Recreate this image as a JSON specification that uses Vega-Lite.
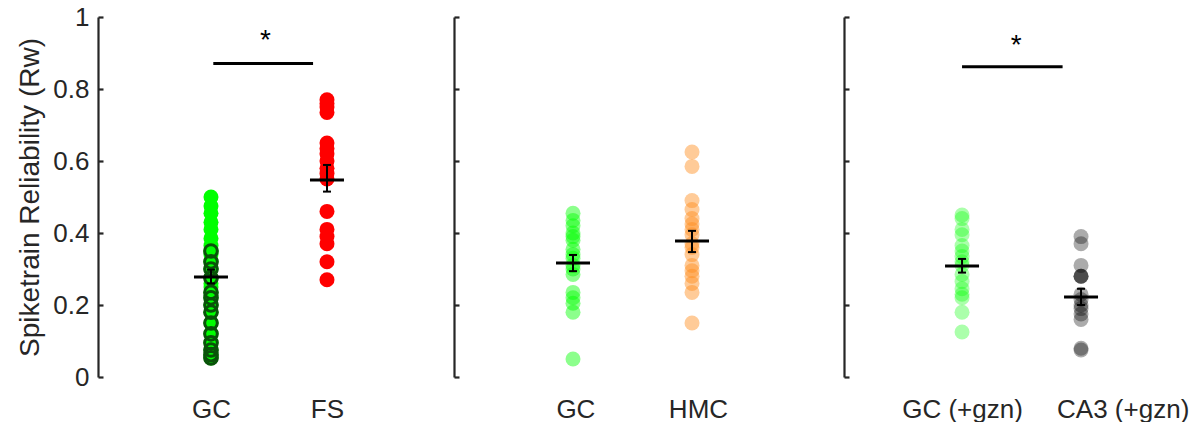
{
  "$schema": "https://vega.github.io/schema/vega-lite/v6.json",
  "padding": {"left": 16, "top": 4, "right": 0, "bottom": 0},
  "bounds": "flush",
  "spacing": 0,
  "config": {
    "view": {"stroke": null},
    "axis": {"domainColor": "#262626", "domainWidth": 2.2, "tickColor": "#262626", "tickWidth": 2.2, "labelColor": "#262626", "labelFont": "Liberation Sans", "labelFontSize": 26, "titleFont": "Liberation Sans", "titleFontSize": 28, "titleFontWeight": "normal", "titleColor": "#262626", "grid": false},
    "tick": {"opacity": 1},
    "text": {"font": "Liberation Sans"}
  },
  "datasets": {
    "points": [
      {"panel": 1, "group": "GC", "slot": 1, "rw": 0.50, "ring": false},
      {"panel": 1, "group": "GC", "slot": 1, "rw": 0.475, "ring": false},
      {"panel": 1, "group": "GC", "slot": 1, "rw": 0.455, "ring": false},
      {"panel": 1, "group": "GC", "slot": 1, "rw": 0.43, "ring": false},
      {"panel": 1, "group": "GC", "slot": 1, "rw": 0.41, "ring": false},
      {"panel": 1, "group": "GC", "slot": 1, "rw": 0.385, "ring": false},
      {"panel": 1, "group": "GC", "slot": 1, "rw": 0.365, "ring": false},
      {"panel": 1, "group": "GC", "slot": 1, "rw": 0.34, "ring": false},
      {"panel": 1, "group": "GC", "slot": 1, "rw": 0.26, "ring": false},
      {"panel": 1, "group": "GC", "slot": 1, "rw": 0.25, "ring": false},
      {"panel": 1, "group": "GC", "slot": 1, "rw": 0.35, "ring": true},
      {"panel": 1, "group": "GC", "slot": 1, "rw": 0.32, "ring": true},
      {"panel": 1, "group": "GC", "slot": 1, "rw": 0.30, "ring": true},
      {"panel": 1, "group": "GC", "slot": 1, "rw": 0.275, "ring": true},
      {"panel": 1, "group": "GC", "slot": 1, "rw": 0.235, "ring": true},
      {"panel": 1, "group": "GC", "slot": 1, "rw": 0.22, "ring": true},
      {"panel": 1, "group": "GC", "slot": 1, "rw": 0.20, "ring": true},
      {"panel": 1, "group": "GC", "slot": 1, "rw": 0.18, "ring": true},
      {"panel": 1, "group": "GC", "slot": 1, "rw": 0.15, "ring": true},
      {"panel": 1, "group": "GC", "slot": 1, "rw": 0.12, "ring": true},
      {"panel": 1, "group": "GC", "slot": 1, "rw": 0.095, "ring": true},
      {"panel": 1, "group": "GC", "slot": 1, "rw": 0.075, "ring": true},
      {"panel": 1, "group": "GC", "slot": 1, "rw": 0.062, "ring": true},
      {"panel": 1, "group": "GC", "slot": 1, "rw": 0.053, "ring": true},
      {"panel": 1, "group": "FS", "slot": 2, "rw": 0.77, "ring": false},
      {"panel": 1, "group": "FS", "slot": 2, "rw": 0.76, "ring": false},
      {"panel": 1, "group": "FS", "slot": 2, "rw": 0.75, "ring": false},
      {"panel": 1, "group": "FS", "slot": 2, "rw": 0.735, "ring": false},
      {"panel": 1, "group": "FS", "slot": 2, "rw": 0.65, "ring": false},
      {"panel": 1, "group": "FS", "slot": 2, "rw": 0.635, "ring": false},
      {"panel": 1, "group": "FS", "slot": 2, "rw": 0.62, "ring": false},
      {"panel": 1, "group": "FS", "slot": 2, "rw": 0.60, "ring": false},
      {"panel": 1, "group": "FS", "slot": 2, "rw": 0.58, "ring": false},
      {"panel": 1, "group": "FS", "slot": 2, "rw": 0.565, "ring": false},
      {"panel": 1, "group": "FS", "slot": 2, "rw": 0.55, "ring": false},
      {"panel": 1, "group": "FS", "slot": 2, "rw": 0.46, "ring": false},
      {"panel": 1, "group": "FS", "slot": 2, "rw": 0.41, "ring": false},
      {"panel": 1, "group": "FS", "slot": 2, "rw": 0.39, "ring": false},
      {"panel": 1, "group": "FS", "slot": 2, "rw": 0.37, "ring": false},
      {"panel": 1, "group": "FS", "slot": 2, "rw": 0.32, "ring": false},
      {"panel": 1, "group": "FS", "slot": 2, "rw": 0.27, "ring": false},
      {"panel": 2, "group": "GC", "slot": 1, "rw": 0.455, "ring": false},
      {"panel": 2, "group": "GC", "slot": 1, "rw": 0.435, "ring": false},
      {"panel": 2, "group": "GC", "slot": 1, "rw": 0.42, "ring": false},
      {"panel": 2, "group": "GC", "slot": 1, "rw": 0.40, "ring": false},
      {"panel": 2, "group": "GC", "slot": 1, "rw": 0.39, "ring": false},
      {"panel": 2, "group": "GC", "slot": 1, "rw": 0.38, "ring": false},
      {"panel": 2, "group": "GC", "slot": 1, "rw": 0.355, "ring": false},
      {"panel": 2, "group": "GC", "slot": 1, "rw": 0.34, "ring": false},
      {"panel": 2, "group": "GC", "slot": 1, "rw": 0.33, "ring": false},
      {"panel": 2, "group": "GC", "slot": 1, "rw": 0.31, "ring": false},
      {"panel": 2, "group": "GC", "slot": 1, "rw": 0.30, "ring": false},
      {"panel": 2, "group": "GC", "slot": 1, "rw": 0.285, "ring": false},
      {"panel": 2, "group": "GC", "slot": 1, "rw": 0.235, "ring": false},
      {"panel": 2, "group": "GC", "slot": 1, "rw": 0.22, "ring": false},
      {"panel": 2, "group": "GC", "slot": 1, "rw": 0.205, "ring": false},
      {"panel": 2, "group": "GC", "slot": 1, "rw": 0.18, "ring": false},
      {"panel": 2, "group": "GC", "slot": 1, "rw": 0.05, "ring": false},
      {"panel": 2, "group": "HMC", "slot": 2, "rw": 0.625, "ring": false},
      {"panel": 2, "group": "HMC", "slot": 2, "rw": 0.585, "ring": false},
      {"panel": 2, "group": "HMC", "slot": 2, "rw": 0.49, "ring": false},
      {"panel": 2, "group": "HMC", "slot": 2, "rw": 0.465, "ring": false},
      {"panel": 2, "group": "HMC", "slot": 2, "rw": 0.44, "ring": false},
      {"panel": 2, "group": "HMC", "slot": 2, "rw": 0.425, "ring": false},
      {"panel": 2, "group": "HMC", "slot": 2, "rw": 0.41, "ring": false},
      {"panel": 2, "group": "HMC", "slot": 2, "rw": 0.395, "ring": false},
      {"panel": 2, "group": "HMC", "slot": 2, "rw": 0.37, "ring": false},
      {"panel": 2, "group": "HMC", "slot": 2, "rw": 0.36, "ring": false},
      {"panel": 2, "group": "HMC", "slot": 2, "rw": 0.34, "ring": false},
      {"panel": 2, "group": "HMC", "slot": 2, "rw": 0.31, "ring": false},
      {"panel": 2, "group": "HMC", "slot": 2, "rw": 0.295, "ring": false},
      {"panel": 2, "group": "HMC", "slot": 2, "rw": 0.28, "ring": false},
      {"panel": 2, "group": "HMC", "slot": 2, "rw": 0.26, "ring": false},
      {"panel": 2, "group": "HMC", "slot": 2, "rw": 0.235, "ring": false},
      {"panel": 2, "group": "HMC", "slot": 2, "rw": 0.15, "ring": false},
      {"panel": 3, "group": "GC (+gzn)", "slot": 1, "rw": 0.45, "ring": false},
      {"panel": 3, "group": "GC (+gzn)", "slot": 1, "rw": 0.44, "ring": false},
      {"panel": 3, "group": "GC (+gzn)", "slot": 1, "rw": 0.41, "ring": false},
      {"panel": 3, "group": "GC (+gzn)", "slot": 1, "rw": 0.395, "ring": false},
      {"panel": 3, "group": "GC (+gzn)", "slot": 1, "rw": 0.365, "ring": false},
      {"panel": 3, "group": "GC (+gzn)", "slot": 1, "rw": 0.35, "ring": false},
      {"panel": 3, "group": "GC (+gzn)", "slot": 1, "rw": 0.335, "ring": false},
      {"panel": 3, "group": "GC (+gzn)", "slot": 1, "rw": 0.32, "ring": false},
      {"panel": 3, "group": "GC (+gzn)", "slot": 1, "rw": 0.31, "ring": false},
      {"panel": 3, "group": "GC (+gzn)", "slot": 1, "rw": 0.285, "ring": false},
      {"panel": 3, "group": "GC (+gzn)", "slot": 1, "rw": 0.265, "ring": false},
      {"panel": 3, "group": "GC (+gzn)", "slot": 1, "rw": 0.245, "ring": false},
      {"panel": 3, "group": "GC (+gzn)", "slot": 1, "rw": 0.23, "ring": false},
      {"panel": 3, "group": "GC (+gzn)", "slot": 1, "rw": 0.22, "ring": false},
      {"panel": 3, "group": "GC (+gzn)", "slot": 1, "rw": 0.18, "ring": false},
      {"panel": 3, "group": "GC (+gzn)", "slot": 1, "rw": 0.125, "ring": false},
      {"panel": 3, "group": "CA3 (+gzn)", "slot": 2, "rw": 0.39, "ring": false},
      {"panel": 3, "group": "CA3 (+gzn)", "slot": 2, "rw": 0.37, "ring": false},
      {"panel": 3, "group": "CA3 (+gzn)", "slot": 2, "rw": 0.31, "ring": false},
      {"panel": 3, "group": "CA3 (+gzn)", "slot": 2, "rw": 0.28, "ring": false},
      {"panel": 3, "group": "CA3 (+gzn)", "slot": 2, "rw": 0.28, "ring": false},
      {"panel": 3, "group": "CA3 (+gzn)", "slot": 2, "rw": 0.28, "ring": false},
      {"panel": 3, "group": "CA3 (+gzn)", "slot": 2, "rw": 0.23, "ring": false},
      {"panel": 3, "group": "CA3 (+gzn)", "slot": 2, "rw": 0.215, "ring": false},
      {"panel": 3, "group": "CA3 (+gzn)", "slot": 2, "rw": 0.20, "ring": false},
      {"panel": 3, "group": "CA3 (+gzn)", "slot": 2, "rw": 0.19, "ring": false},
      {"panel": 3, "group": "CA3 (+gzn)", "slot": 2, "rw": 0.175, "ring": false},
      {"panel": 3, "group": "CA3 (+gzn)", "slot": 2, "rw": 0.16, "ring": false},
      {"panel": 3, "group": "CA3 (+gzn)", "slot": 2, "rw": 0.08, "ring": false},
      {"panel": 3, "group": "CA3 (+gzn)", "slot": 2, "rw": 0.075, "ring": false}
    ],
    "stats": [
      {"panel": 1, "group": "GC", "slot": 1, "mean": 0.278, "lo": 0.26, "hi": 0.298},
      {"panel": 1, "group": "FS", "slot": 2, "mean": 0.547, "lo": 0.515, "hi": 0.589},
      {"panel": 2, "group": "GC", "slot": 1, "mean": 0.317, "lo": 0.294, "hi": 0.339},
      {"panel": 2, "group": "HMC", "slot": 2, "mean": 0.378, "lo": 0.347, "hi": 0.406},
      {"panel": 3, "group": "GC (+gzn)", "slot": 1, "mean": 0.308, "lo": 0.29, "hi": 0.328},
      {"panel": 3, "group": "CA3 (+gzn)", "slot": 2, "mean": 0.222, "lo": 0.2, "hi": 0.245}
    ],
    "sig": [
      {"panel": 1, "start": 1.02, "end": 1.88, "bar": 0.871, "mid": 1.47, "star": 0.91, "label": "*"},
      {"panel": 3, "start": 1.0, "end": 1.845, "bar": 0.862, "mid": 1.455, "star": 0.897, "label": "*"}
    ]
  },
  "hconcat": [
    {
      "width": 356, "height": 360,
      "layer": [
        {
          "data": {"name": "points"},
          "transform": [{"filter": "datum.panel == 1"}],
          "mark": {"type": "circle", "size": 225, "opacity": 1},
          "encoding": {
            "x": {"field": "slot", "type": "quantitative", "scale": {"domain": [0.026, 3.095], "nice": false, "zero": false}, "axis": {"values": [1, 2], "labelExpr": "datum.value < 1.5 ? 'GC' : 'FS'", "domain": false, "ticks": false, "labelPadding": 19, "labelFlush": false, "title": null}},
            "y": {"field": "rw", "type": "quantitative", "scale": {"domain": [0, 1], "nice": false}, "axis": {"values": [0, 0.2, 0.4, 0.6, 0.8, 1], "format": "~g", "tickSize": -5, "labelPadding": 14, "titlePadding": 8, "title": "Spiketrain Reliability (Rᴡ)"}},
            "color": {"field": "group", "type": "nominal", "scale": {"domain": ["GC", "FS", "HMC", "GC (+gzn)", "CA3 (+gzn)"], "range": ["#00ff00", "#ff0000", "#ff8c1a", "#00ff00", "#000000"]}, "legend": null}
          }
        },
        {
          "data": {"name": "points"},
          "transform": [{"filter": "datum.panel == 1 && datum.ring"}],
          "mark": {"type": "point", "shape": "circle", "filled": false, "size": 160, "stroke": "#0a520a", "strokeWidth": 3, "opacity": 1},
          "encoding": {
            "x": {"field": "slot", "type": "quantitative"},
            "y": {"field": "rw", "type": "quantitative", "title": "Spiketrain Reliability (Rᴡ)"}
          }
        },
        {
          "data": {"name": "stats"},
          "transform": [{"filter": "datum.panel == 1"}],
          "mark": {"type": "rule", "color": "#000000", "strokeWidth": 2},
          "encoding": {
            "x": {"field": "slot", "type": "quantitative"},
            "y": {"field": "lo", "type": "quantitative", "title": "Spiketrain Reliability (Rᴡ)"},
            "y2": {"field": "hi"}
          }
        },
        {
          "data": {"name": "stats"},
          "transform": [{"filter": "datum.panel == 1"}],
          "mark": {"type": "tick", "orient": "horizontal", "color": "#000000", "opacity": 1, "size": 8, "thickness": 2},
          "encoding": {
            "x": {"field": "slot", "type": "quantitative"},
            "y": {"field": "lo", "type": "quantitative", "title": "Spiketrain Reliability (Rᴡ)"}
          }
        },
        {
          "data": {"name": "stats"},
          "transform": [{"filter": "datum.panel == 1"}],
          "mark": {"type": "tick", "orient": "horizontal", "color": "#000000", "opacity": 1, "size": 8, "thickness": 2},
          "encoding": {
            "x": {"field": "slot", "type": "quantitative"},
            "y": {"field": "hi", "type": "quantitative", "title": "Spiketrain Reliability (Rᴡ)"}
          }
        },
        {
          "data": {"name": "stats"},
          "transform": [{"filter": "datum.panel == 1"}],
          "mark": {"type": "tick", "orient": "horizontal", "color": "#000000", "opacity": 1, "size": 34, "thickness": 3},
          "encoding": {
            "x": {"field": "slot", "type": "quantitative"},
            "y": {"field": "mean", "type": "quantitative", "title": "Spiketrain Reliability (Rᴡ)"}
          }
        },
        {
          "data": {"name": "sig"},
          "transform": [{"filter": "datum.panel == 1"}],
          "mark": {"type": "rule", "color": "#000000", "strokeWidth": 3},
          "encoding": {
            "x": {"field": "start", "type": "quantitative"},
            "x2": {"field": "end"},
            "y": {"field": "bar", "type": "quantitative", "title": "Spiketrain Reliability (Rᴡ)"}
          }
        },
        {
          "data": {"name": "sig"},
          "transform": [{"filter": "datum.panel == 1"}],
          "mark": {"type": "text", "fontSize": 28, "color": "#000000", "baseline": "alphabetic", "align": "center"},
          "encoding": {
            "x": {"field": "mid", "type": "quantitative"},
            "y": {"field": "star", "type": "quantitative", "title": "Spiketrain Reliability (Rᴡ)"},
            "text": {"field": "label"}
          }
        }
      ]
    },
    {
      "width": 390, "height": 360,
      "layer": [
        {
          "data": {"name": "points"},
          "transform": [{"filter": "datum.panel == 2"}],
          "mark": {"type": "circle", "size": 225, "opacity": 0.45},
          "encoding": {
            "x": {"field": "slot", "type": "quantitative", "scale": {"domain": [0, 3.277], "nice": false, "zero": false}, "axis": {"values": [1.02, 2.05], "labelExpr": "datum.value < 1.5 ? 'GC' : 'HMC'", "domain": false, "ticks": false, "labelPadding": 19, "labelFlush": false, "title": null}},
            "y": {"field": "rw", "type": "quantitative", "scale": {"domain": [0, 1], "nice": false}, "axis": {"values": [0, 0.2, 0.4, 0.6, 0.8, 1], "labels": false, "tickSize": -5, "title": null}},
            "color": {"field": "group", "type": "nominal", "scale": {"domain": ["GC", "FS", "HMC", "GC (+gzn)", "CA3 (+gzn)"], "range": ["#00ff00", "#ff0000", "#ff8c1a", "#00ff00", "#000000"]}, "legend": null}
          }
        },
        {
          "data": {"name": "stats"},
          "transform": [{"filter": "datum.panel == 2"}],
          "mark": {"type": "rule", "color": "#000000", "strokeWidth": 2},
          "encoding": {
            "x": {"field": "slot", "type": "quantitative"},
            "y": {"field": "lo", "type": "quantitative", "title": null},
            "y2": {"field": "hi"}
          }
        },
        {
          "data": {"name": "stats"},
          "transform": [{"filter": "datum.panel == 2"}],
          "mark": {"type": "tick", "orient": "horizontal", "color": "#000000", "opacity": 1, "size": 8, "thickness": 2},
          "encoding": {
            "x": {"field": "slot", "type": "quantitative"},
            "y": {"field": "lo", "type": "quantitative", "title": null}
          }
        },
        {
          "data": {"name": "stats"},
          "transform": [{"filter": "datum.panel == 2"}],
          "mark": {"type": "tick", "orient": "horizontal", "color": "#000000", "opacity": 1, "size": 8, "thickness": 2},
          "encoding": {
            "x": {"field": "slot", "type": "quantitative"},
            "y": {"field": "hi", "type": "quantitative", "title": null}
          }
        },
        {
          "data": {"name": "stats"},
          "transform": [{"filter": "datum.panel == 2"}],
          "mark": {"type": "tick", "orient": "horizontal", "color": "#000000", "opacity": 1, "size": 34, "thickness": 3},
          "encoding": {
            "x": {"field": "slot", "type": "quantitative"},
            "y": {"field": "mean", "type": "quantitative", "title": null}
          }
        }
      ]
    },
    {
      "width": 354, "height": 360,
      "layer": [
        {
          "data": {"name": "points"},
          "transform": [{"filter": "datum.panel == 3"}],
          "mark": {"type": "circle", "size": 225, "opacity": 0.33},
          "encoding": {
            "x": {"field": "slot", "type": "quantitative", "scale": {"domain": [0.008, 2.983], "nice": false, "zero": false}, "axis": {"values": [1.0, 2.35], "labelExpr": "datum.value < 1.5 ? 'GC (+gzn)' : 'CA3 (+gzn)'", "domain": false, "ticks": false, "labelPadding": 19, "labelFlush": false, "title": null}},
            "y": {"field": "rw", "type": "quantitative", "scale": {"domain": [0, 1], "nice": false}, "axis": {"values": [0, 0.2, 0.4, 0.6, 0.8, 1], "labels": false, "tickSize": -5, "title": null}},
            "color": {"field": "group", "type": "nominal", "scale": {"domain": ["GC", "FS", "HMC", "GC (+gzn)", "CA3 (+gzn)"], "range": ["#00ff00", "#ff0000", "#ff8c1a", "#00ff00", "#000000"]}, "legend": null}
          }
        },
        {
          "data": {"name": "stats"},
          "transform": [{"filter": "datum.panel == 3"}],
          "mark": {"type": "rule", "color": "#000000", "strokeWidth": 2},
          "encoding": {
            "x": {"field": "slot", "type": "quantitative"},
            "y": {"field": "lo", "type": "quantitative", "title": null},
            "y2": {"field": "hi"}
          }
        },
        {
          "data": {"name": "stats"},
          "transform": [{"filter": "datum.panel == 3"}],
          "mark": {"type": "tick", "orient": "horizontal", "color": "#000000", "opacity": 1, "size": 8, "thickness": 2},
          "encoding": {
            "x": {"field": "slot", "type": "quantitative"},
            "y": {"field": "lo", "type": "quantitative", "title": null}
          }
        },
        {
          "data": {"name": "stats"},
          "transform": [{"filter": "datum.panel == 3"}],
          "mark": {"type": "tick", "orient": "horizontal", "color": "#000000", "opacity": 1, "size": 8, "thickness": 2},
          "encoding": {
            "x": {"field": "slot", "type": "quantitative"},
            "y": {"field": "hi", "type": "quantitative", "title": null}
          }
        },
        {
          "data": {"name": "stats"},
          "transform": [{"filter": "datum.panel == 3"}],
          "mark": {"type": "tick", "orient": "horizontal", "color": "#000000", "opacity": 1, "size": 34, "thickness": 3},
          "encoding": {
            "x": {"field": "slot", "type": "quantitative"},
            "y": {"field": "mean", "type": "quantitative", "title": null}
          }
        },
        {
          "data": {"name": "sig"},
          "transform": [{"filter": "datum.panel == 3"}],
          "mark": {"type": "rule", "color": "#000000", "strokeWidth": 3},
          "encoding": {
            "x": {"field": "start", "type": "quantitative"},
            "x2": {"field": "end"},
            "y": {"field": "bar", "type": "quantitative", "title": null}
          }
        },
        {
          "data": {"name": "sig"},
          "transform": [{"filter": "datum.panel == 3"}],
          "mark": {"type": "text", "fontSize": 28, "color": "#000000", "baseline": "alphabetic", "align": "center"},
          "encoding": {
            "x": {"field": "mid", "type": "quantitative"},
            "y": {"field": "star", "type": "quantitative", "title": null},
            "text": {"field": "label"}
          }
        }
      ]
    }
  ]
}
